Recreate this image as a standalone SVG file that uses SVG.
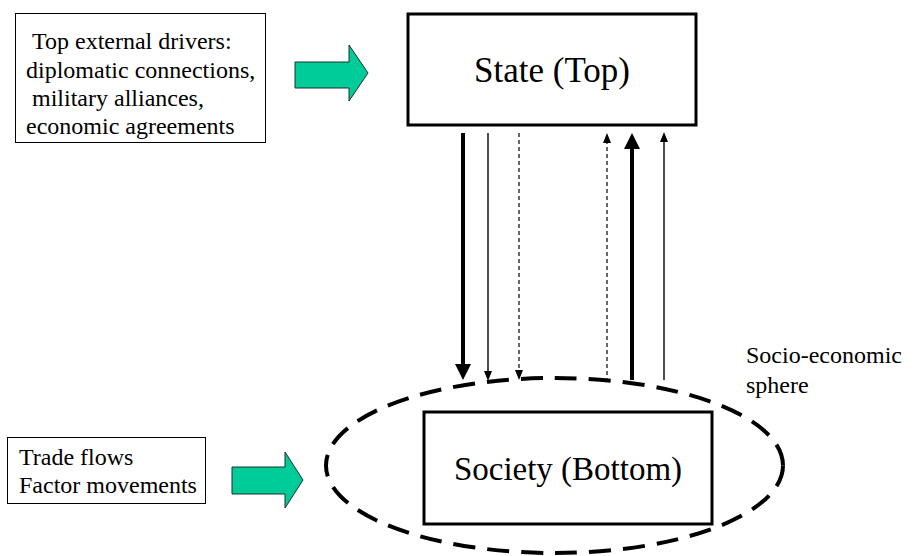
<svg xmlns="http://www.w3.org/2000/svg" width="920" height="556" viewBox="0 0 920 556">
<style>
text{font-family:"Liberation Serif","Times New Roman",Times,serif;fill:#000}
.lbl{font-size:24px}
.big{font-size:33px}
.box{fill:#fff;stroke:#000}
.green{fill:#00CC99;stroke:#1a3326;stroke-width:1}
.thick{stroke:#000;stroke-width:4;fill:none}
.thin{stroke:#000;stroke-width:1.4;fill:none}
.dash{stroke:#000;stroke-width:1.2;fill:none;stroke-dasharray:4 3}
</style>
<defs>
<marker id="hb" markerUnits="userSpaceOnUse" markerWidth="16" markerHeight="18" viewBox="0 0 16 18" refX="0" refY="9" orient="auto">
<path d="M0,1 L16,9 L0,17 Z" fill="#000"/>
</marker>
<marker id="hs" markerUnits="userSpaceOnUse" markerWidth="10" markerHeight="10" viewBox="0 0 10 10" refX="0" refY="5" orient="auto">
<path d="M0,1 L10,5 L0,9 Z" fill="#000"/>
</marker>
</defs>
<rect width="920" height="556" fill="#fff"/>
<g id="top-drivers">
<rect class="box" x="15.5" y="13.5" width="250" height="129" stroke-width="1"/>
<text class="lbl" x="32" y="49">Top external drivers:</text>
<text class="lbl" x="26" y="78">diplomatic connections,</text>
<text class="lbl" x="32" y="106">military alliances,</text>
<text class="lbl" x="26" y="134">economic agreements</text>
</g>
<g id="top-arrow">
<polygon class="green" points="295,62 349,62 349,45 368,73 349,101 349,88 295,88"/>
</g>
<g id="state">
<rect class="box" x="408" y="14" width="288" height="111" stroke-width="3"/>
<text class="big" x="552" y="82" text-anchor="middle" style="font-size:35px">State (Top)</text>
</g>
<g id="sphere">
<ellipse cx="554.5" cy="465.5" rx="228.5" ry="87.5" fill="none" stroke="#000" stroke-width="4" stroke-dasharray="22 12"/>
<text class="lbl" x="746" y="363">Socio-economic</text>
<text class="lbl" x="746" y="393">sphere</text>
</g>
<g id="society">
<rect class="box" x="424" y="412" width="288" height="112" stroke-width="3"/>
<text class="big" x="568" y="480" text-anchor="middle">Society (Bottom)</text>
</g>
<g id="bottom-drivers">
<rect class="box" x="7.5" y="437.5" width="198" height="66" stroke-width="1"/>
<text class="lbl" x="19" y="465">Trade flows</text>
<text class="lbl" x="19" y="493">Factor movements</text>
</g>
<g id="bottom-arrow">
<polygon class="green" points="232,467 285,467 285,452 303,480 285,508 285,494 232,494"/>
</g>
<g id="connectors">
<line class="thick" x1="463" y1="133" x2="463" y2="364" marker-end="url(#hb)"/>
<line class="thin" x1="488" y1="133" x2="488" y2="371" marker-end="url(#hs)"/>
<line class="dash" x1="519" y1="133" x2="519" y2="370" marker-end="url(#hs)"/>
<line class="dash" x1="607" y1="382" x2="607" y2="143" marker-end="url(#hs)"/>
<line class="thick" x1="632" y1="380" x2="632" y2="149" marker-end="url(#hb)"/>
<line class="thin" x1="664" y1="380" x2="664" y2="142" marker-end="url(#hs)"/>
</g>
</svg>
